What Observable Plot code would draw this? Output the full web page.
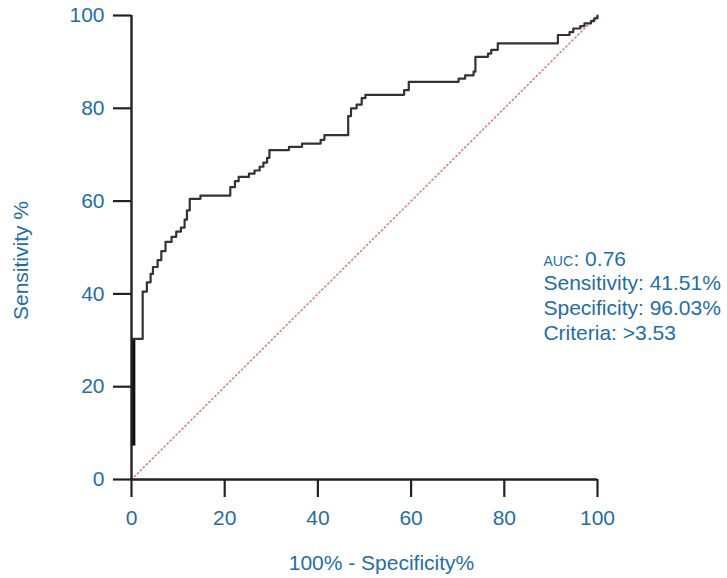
<!DOCTYPE html>
<html><head><meta charset="utf-8">
<script src="https://cdn.jsdelivr.net/npm/d3@7"></script>
<script src="https://cdn.jsdelivr.net/npm/@observablehq/plot@0.6"></script>
<style>body{margin:0;background:#fff;}</style>
</head><body><div id="chart"></div>
<script>
// ROC curve vertices (100% - Specificity%, Sensitivity%), step-after: horizontal then rise
const rocX = [0.4, 2.4, 3.3, 4.1, 4.6, 5.6, 6.4, 7.3, 8.6, 9.6, 10.6, 11.4, 11.9, 12.5, 14.8, 21.2, 22.2, 23.0, 25.2, 26.4, 27.5, 28.3, 29.1, 29.6, 33.8, 36.6, 40.6, 41.4, 46.5, 47.1, 48.3, 49.4, 50.2, 58.5, 59.5, 70.2, 71.6, 73.4, 73.8, 76.5, 77.2, 78.6, 91.5, 94.0, 94.8, 96.3, 97.2, 98.6, 99.3, 100];
const rocY = [30.3, 40.5, 42.5, 44.3, 45.8, 47.3, 49.2, 51.2, 52.3, 53.4, 54.3, 56.0, 58.0, 60.5, 61.2, 63.0, 64.3, 65.2, 65.9, 66.6, 67.4, 68.3, 69.3, 71.0, 71.7, 72.4, 73.2, 74.2, 78.3, 80.0, 80.8, 82.2, 82.9, 83.9, 85.7, 86.4, 87.1, 87.9, 91.1, 91.8, 92.6, 94.0, 95.8, 96.4, 97.2, 97.7, 98.3, 98.8, 99.4, 100];
// thick initial vertical run at x≈0
const runX = [0.4];
const runY1 = [7.2];
const runY2 = [30.3];
// reference diagonal
const diagX = [0, 100];
const diagY = [0, 100];
const xTicks = [0, 20, 40, 60, 80, 100];
const yTicks = [0, 20, 40, 60, 80, 100];
const xLabel = "100% - Specificity%";
const yLabel = "Sensitivity %";
const aucLabel = "AUC";
const aucValue = ": 0.76";
const statLines = ["Sensitivity: 41.51%", "Specificity: 96.03%", "Criteria: >3.53"];
const statY = [42.2, 36.9, 31.6];
const aucY = 47.5;
const statX = 88.4;

const blue = "#1f6ea6";
const ink = "#222";
const font = "Liberation Sans, Arial, sans-serif";
const fs = 21;

const roc = rocX.map((x, i) => ({x, y: rocY[i]}));
roc.unshift({x: runX[0], y: runY2[0]});
const diag = diagX.map((x, i) => ({x, y: diagY[i]}));
const run = runX.map((x, i) => ({x, y1: runY1[i], y2: runY2[i]}));
const stats = statLines.map((t, i) => ({t, y: statY[i]}));

const chart = Plot.plot({
  width: 727,
  height: 578,
  marginLeft: 131,
  marginRight: 130,
  marginTop: 15,
  marginBottom: 99,
  style: {fontFamily: font, fontSize: fs + "px", background: "#fff", overflow: "visible"},
  x: {domain: [0, 100]},
  y: {domain: [0, 100]},
  marks: [
    Plot.line(diag, {x: "x", y: "y", stroke: "#d9826f", strokeWidth: 1.6, strokeDasharray: "1.2,3", strokeLinecap: "round"}),
    Plot.ruleX(run, {x: "x", y1: "y1", y2: "y2", stroke: "#111", strokeWidth: 4}),
    Plot.line(roc, {x: "x", y: "y", curve: "step-after", stroke: "#333", strokeWidth: 2.2}),
    Plot.axisX({ticks: xTicks, tickSize: 18, tickPadding: 13, stroke: ink, strokeWidth: 2.2, color: blue, fontSize: fs, label: null, tickFormat: d => String(d)}),
    Plot.axisY({ticks: yTicks, tickSize: 18, tickPadding: 9, stroke: ink, strokeWidth: 2.2, color: blue, fontSize: fs, label: null, tickFormat: d => String(d)}),
    Plot.ruleX([0], {stroke: ink, strokeWidth: 2.4}),
    Plot.ruleY([0], {stroke: ink, strokeWidth: 2.4}),
    Plot.text([xLabel], {frameAnchor: "bottom", text: d => d, textAnchor: "middle", dx: 17, dy: 84, fill: blue, fontSize: fs, lineAnchor: "middle"}),
    Plot.text([yLabel], {frameAnchor: "left", text: d => d, textAnchor: "middle", rotate: -90, dx: -110, dy: 13, fill: blue, fontSize: fs, lineAnchor: "middle"}),
    Plot.text([aucLabel], {x: statX, y: aucY, text: d => d, textAnchor: "start", lineAnchor: "middle", fill: blue, fontSize: 14, dy: 2.5}),
    Plot.text([aucValue], {x: statX, y: aucY, text: d => d, textAnchor: "start", lineAnchor: "middle", fill: blue, fontSize: fs, dx: 30}),
    Plot.text(stats, {x: statX, y: "y", text: "t", textAnchor: "start", lineAnchor: "middle", fill: blue, fontSize: fs})
  ]
});
document.getElementById("chart").appendChild(chart);
</script>
</body></html>
